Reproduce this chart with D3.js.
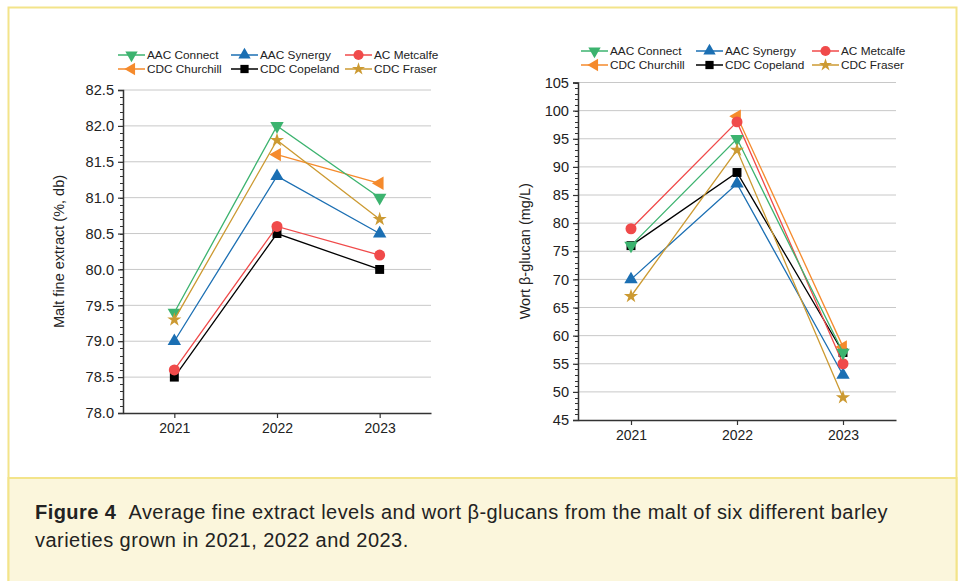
<!DOCTYPE html>
<html>
<head>
<meta charset="utf-8">
<script src="https://cdn.jsdelivr.net/npm/d3@7"></script>
<style>
  html, body { margin: 0; padding: 0; background: #fff; }
  svg text { font-family: "Liberation Sans", Arial, sans-serif; fill: #222; }
</style>
</head>
<body>
<svg id="fig" width="959" height="581"></svg>
<script>
// Harvest years (x categories)
const years = ["2021", "2022", "2023"];

// Variety names, in legend order
const varieties = ["AAC Connect", "AAC Synergy", "AC Metcalfe", "CDC Churchill", "CDC Copeland", "CDC Fraser"];

// Malt fine extract (%, db) per variety, one value per year (null = not tested)
const extractConnect   = [79.4, 82.0, 81.0];
const extractSynergy   = [79.0, 81.3, 80.5];
const extractMetcalfe  = [78.6, 80.6, 80.2];
const extractChurchill = [null, 81.6, 81.2];
const extractCopeland  = [78.5, 80.5, 80.0];
const extractFraser    = [79.3, 81.8, 80.7];

// Wort beta-glucan (mg/L) per variety, one value per year
const glucanConnect   = [76, 95, 57];
const glucanSynergy   = [70, 87, 53];
const glucanMetcalfe  = [79, 98, 55];
const glucanChurchill = [null, 99, 58];
const glucanCopeland  = [76, 89, 57];
const glucanFraser    = [67, 93, 49];

// Tick labels for the two value axes
const extractTicks = ["78.0", "78.5", "79.0", "79.5", "80.0", "80.5", "81.0", "81.5", "82.0", "82.5"];
const glucanTicks  = ["45", "50", "55", "60", "65", "70", "75", "80", "85", "90", "95", "100", "105"];

// Series styling
const colors  = ["#3cb36f", "#1b6fb3", "#f04a4a", "#f58a2c", "#000000", "#cc9a32"];
const shapes  = [
  { type: d3.symbolTriangle, size: 78, rot: 180 },
  { type: d3.symbolTriangle, size: 78, rot: 0 },
  { type: d3.symbolCircle,   size: 95, rot: 0 },
  { type: d3.symbolTriangle, size: 78, rot: -90 },
  { type: d3.symbolSquare,   size: 80, rot: 0 },
  { type: d3.symbolStar,     size: 62, rot: 0 }
];
const drawOrder = [4, 3, 1, 2, 0, 5];

const svg = d3.select("#fig");

// page frame and caption panel
svg.append("rect").attr("x", 8.5).attr("y", 7.5).attr("width", 948).attr("height", 590)
  .attr("fill", "#fff").attr("stroke", "#f3e48a").attr("stroke-width", 2);
svg.append("rect").attr("x", 8.5).attr("y", 478).attr("width", 948).attr("height", 120)
  .attr("fill", "#fbf6dc").attr("stroke", "#f3e48a").attr("stroke-width", 2);

// caption, spaced out so the first line spans the panel width
const capSize = "20px";
const cap = svg.append("text").attr("x", 35).attr("y", 519).style("font-size", capSize);
cap.append("tspan").attr("font-weight", "bold").text("Figure 4");
cap.append("tspan").text("\u00a0\u00a0Average fine extract levels and wort \u03b2-glucans from the malt of six different barley");
const cap2 = svg.append("text").attr("x", 35).attr("y", 547).style("font-size", capSize)
  .text("varieties grown in 2021, 2022 and 2023.");
const capChars = cap.text().length;
const spacing = Math.max(0, (853 - cap.node().getComputedTextLength()) / capChars);
cap.style("letter-spacing", spacing + "px");
cap2.style("letter-spacing", spacing + "px");

function panel(opts) {
  const { x0, x1, y0, y1, domain, ticks, minorStep, series, label, labelX, legend } = opts;
  const g = svg.append("g");

  const x = d3.scalePoint().domain(years).range([x0, x1]).padding(0.5);
  const y = d3.scaleLinear().domain(domain).range([y1, y0]);
  const tickVals = ticks.map(Number);

  // horizontal gridlines
  g.append("g").selectAll("line").data(tickVals.slice(1)).join("line")
    .attr("x1", x0).attr("x2", x1)
    .attr("y1", d => y(d)).attr("y2", d => y(d))
    .attr("stroke", "#c8c8c8").attr("stroke-width", 1);

  // minor ticks on the value axis
  const minors = d3.range(domain[0], domain[1] + minorStep / 2, minorStep);
  g.append("g").selectAll("line").data(minors).join("line")
    .attr("x1", x0 - 3).attr("x2", x0)
    .attr("y1", d => Math.round(y(d)) + 0.5).attr("y2", d => Math.round(y(d)) + 0.5)
    .attr("stroke", "#333").attr("stroke-width", 1);

  const yAxis = d3.axisLeft(y).tickValues(tickVals).tickFormat((d, i) => ticks[i])
    .tickSize(5).tickPadding(4);
  const ya = g.append("g").attr("transform", `translate(${x0},0)`).call(yAxis);
  ya.select(".domain").attr("stroke", "#333").attr("stroke-width", 1.5);
  ya.selectAll(".tick line").attr("stroke", "#333").attr("stroke-width", 1.2);
  ya.selectAll(".tick text").style("font-size", "14.6px").attr("fill", "#1a1a1a")
    .style("font-family", "'Liberation Sans', Arial, sans-serif");

  const xAxis = d3.axisBottom(x).tickSize(5).tickPadding(5).tickSizeOuter(0);
  const xa = g.append("g").attr("transform", `translate(0,${y1})`).call(xAxis);
  xa.select(".domain").attr("stroke", "#333").attr("stroke-width", 1.5);
  xa.selectAll(".tick line").attr("stroke", "#333").attr("stroke-width", 1.2);
  xa.selectAll(".tick text").style("font-size", "14px").attr("fill", "#1a1a1a")
    .style("font-family", "'Liberation Sans', Arial, sans-serif");

  // axis title
  g.append("text")
    .attr("transform", `translate(${labelX},${(y0 + y1) / 2}) rotate(-90)`)
    .attr("text-anchor", "middle").style("font-size", "14.5px")
    .text(label);

  const line = d3.line().defined(d => d.v !== null).x(d => x(d.yr)).y(d => y(d.v));

  drawOrder.forEach(i => {
    const pts = years.map((yr, k) => ({ yr, v: series[i][k] }));
    g.append("path").datum(pts).attr("d", line)
      .attr("fill", "none").attr("stroke", colors[i]).attr("stroke-width", 1.3);
    const sym = d3.symbol().type(shapes[i].type).size(shapes[i].size);
    g.append("g").selectAll("path").data(pts.filter(d => d.v !== null)).join("path")
      .attr("d", sym)
      .attr("transform", d => `translate(${x(d.yr)},${y(d.v)}) rotate(${shapes[i].rot})`)
      .attr("fill", colors[i]);
  });

  // legend: 3 columns x 2 rows
  const lg = svg.append("g");
  varieties.forEach((name, i) => {
    const col = i % 3, row = Math.floor(i / 3);
    const lx = legend.cols[col], ly = legend.rows[row];
    lg.append("line").attr("x1", lx).attr("x2", lx + 27).attr("y1", ly).attr("y2", ly)
      .attr("stroke", colors[i]).attr("stroke-width", 1.5);
    const sym = d3.symbol().type(shapes[i].type).size(shapes[i].size * 0.85);
    lg.append("path").attr("d", sym)
      .attr("transform", `translate(${lx + 13.5},${ly}) rotate(${shapes[i].rot})`)
      .attr("fill", colors[i]);
    lg.append("text").attr("x", lx + 29).attr("y", ly + 4.2)
      .style("font-size", "11.8px").text(name);
  });
}

panel({
  x0: 123, x1: 431, y0: 90, y1: 413,
  domain: [78.0, 82.5], ticks: extractTicks, minorStep: 0.1,
  series: [extractConnect, extractSynergy, extractMetcalfe, extractChurchill, extractCopeland, extractFraser],
  label: "Malt fine extract (%, db)", labelX: 64,
  legend: { cols: [118, 231, 345], rows: [55, 69] }
});

panel({
  x0: 578, x1: 896, y0: 82.5, y1: 420,
  domain: [45, 105], ticks: glucanTicks, minorStep: 1,
  series: [glucanConnect, glucanSynergy, glucanMetcalfe, glucanChurchill, glucanCopeland, glucanFraser],
  label: "Wort \u03b2-glucan (mg/L)", labelX: 530,
  legend: { cols: [581, 696, 812], rows: [51, 65] }
});
</script>
</body>
</html>
